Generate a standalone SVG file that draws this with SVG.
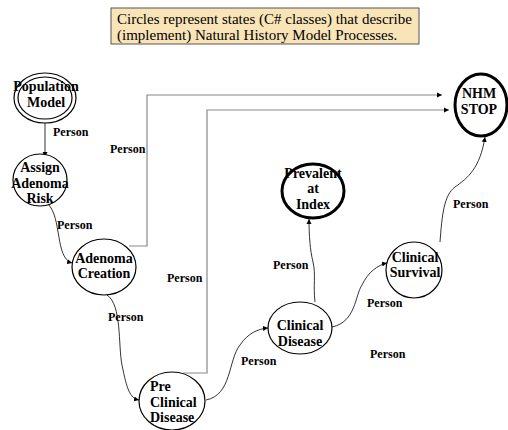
<svg xmlns="http://www.w3.org/2000/svg" width="508" height="430" viewBox="0 0 508 430">
<style>
.n{fill:#fff;stroke:#000;stroke-width:1.2}
.t{stroke-width:3}
.lb{font-family:'Liberation Serif','Times New Roman',serif;font-weight:bold;font-size:14px;text-anchor:middle;fill:#000}
.pl{font-family:'Liberation Serif','Times New Roman',serif;font-weight:bold;font-size:12px;fill:#000}
.c{fill:none;stroke:#000;stroke-width:0.8}
.g{fill:none;stroke:#888;stroke-width:1.2}
.note{font-family:'Liberation Serif','Times New Roman',serif;font-size:15px;fill:#000}
</style>
<defs>
<marker id="a" markerWidth="6" markerHeight="6" refX="5" refY="3" orient="auto" markerUnits="userSpaceOnUse"><path d="M0,0.5 L5,3 L0,5.5 Z" fill="#000"/></marker>
</defs>
<rect x="0" y="0" width="508" height="430" fill="#fff"/>
<g id="note">
<rect x="111" y="8" width="308" height="36" fill="#F9E4B7" stroke="#555" stroke-width="1"/>
<text class="note" x="117" y="24">Circles represent states (C# classes) that describe</text>
<text class="note" x="117" y="40">(implement) Natural History Model Processes.</text>
</g>
<g id="connectors">
<path class="c" d="M45,123 L45,157" marker-end="url(#a)"/>
<path class="c" d="M48,204 C62,218 55,258 72,263" marker-end="url(#a)"/>
<path class="g" d="M129,246 L147,246 L147,95 L442,95" marker-end="url(#a)"/>
<path class="g" d="M183,373 L207,373 L207,110 L449,110" marker-end="url(#a)"/>
<path class="c" d="M107,295 C122,305 118,345 122,365 C127,390 130,398 139,400" marker-end="url(#a)"/>
<path class="c" d="M206,400 C232,395 228,360 240,345 C248,333 258,329 268,328" marker-end="url(#a)"/>
<path class="c" d="M315,302 C313,285 316,275 313,262 C310,250 309,235 309,219" marker-end="url(#a)"/>
<path class="c" d="M332,327 C356,322 355,295 362,285 C368,272 378,265 387,263" marker-end="url(#a)"/>
<path class="c" d="M440,242 C442,215 444,195 455,187 C468,178 480,168 485,137" marker-end="url(#a)"/>
</g>
<g id="population-model">
<ellipse class="n" cx="45" cy="98" rx="31" ry="25"/>
<ellipse class="n" cx="45" cy="98" rx="27" ry="21"/>
<text class="lb" x="46" y="91">Population</text>
<text class="lb" x="46" y="107">Model</text>
</g>
<g id="assign-adenoma-risk">
<ellipse class="n" cx="40" cy="180" rx="27" ry="26"/>
<text class="lb" x="40" y="172">Assign</text>
<text class="lb" x="40" y="188">Adenoma</text>
<text class="lb" x="40" y="203">Risk</text>
</g>
<g id="adenoma-creation">
<ellipse class="n" cx="104" cy="267" rx="32" ry="28"/>
<text class="lb" x="104" y="263">Adenoma</text>
<text class="lb" x="104" y="278">Creation</text>
</g>
<g id="pre-clinical-disease">
<ellipse class="n" cx="172" cy="401" rx="33" ry="29"/>
<text class="lb" x="150" y="391" style="text-anchor:start">Pre</text>
<text class="lb" x="150" y="407" style="text-anchor:start">Clinical</text>
<text class="lb" x="150" y="422" style="text-anchor:start">Disease</text>
</g>
<g id="clinical-disease">
<ellipse class="n" cx="300" cy="328" rx="32" ry="26"/>
<text class="lb" x="300" y="330">Clinical</text>
<text class="lb" x="300" y="346">Disease</text>
</g>
<g id="prevalent-at-index">
<ellipse class="n t" cx="313" cy="191" rx="31" ry="27"/>
<text class="lb" x="313" y="178">Prevalent</text>
<text class="lb" x="313" y="193">at</text>
<text class="lb" x="313" y="209">Index</text>
</g>
<g id="clinical-survival">
<ellipse class="n" cx="414" cy="270" rx="28" ry="28"/>
<text class="lb" x="415" y="262">Clinical</text>
<text class="lb" x="415" y="277">Survival</text>
</g>
<g id="nhm-stop">
<ellipse class="n t" cx="481" cy="105" rx="26" ry="31"/>
<text class="lb" x="479" y="98">NHM</text>
<text class="lb" x="479" y="114">STOP</text>
</g>
<g id="labels">
<text class="pl" x="53" y="136">Person</text>
<text class="pl" x="110" y="153">Person</text>
<text class="pl" x="57" y="229">Person</text>
<text class="pl" x="108" y="321">Person</text>
<text class="pl" x="167" y="282">Person</text>
<text class="pl" x="241" y="365">Person</text>
<text class="pl" x="273" y="269">Person</text>
<text class="pl" x="367" y="307">Person</text>
<text class="pl" x="453" y="208">Person</text>
<text class="pl" x="370" y="358">Person</text>
</g>
</svg>
